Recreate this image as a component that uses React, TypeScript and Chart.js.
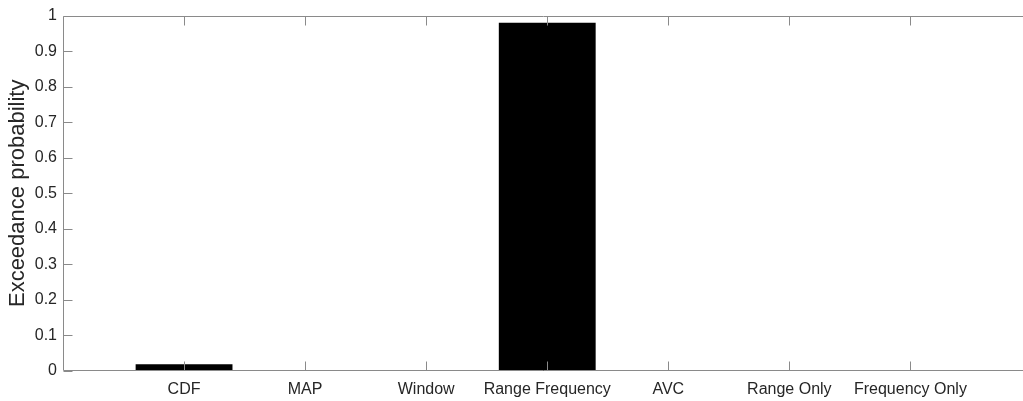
import { useEffect, useRef } from 'react';
import { Chart, registerables } from 'chart.js';

Chart.register(...registerables);

const categories = ['CDF', 'MAP', 'Window', 'Range Frequency', 'AVC', 'Range Only', 'Frequency Only'];
const exceedance = [0.019, 0.002, 0.002, 0.98, 0.002, 0.002, 0.002];
const yTickValues = [0, 0.1, 0.2, 0.3, 0.4, 0.5, 0.6, 0.7, 0.8, 0.9, 1];
const yTitle = 'Exceedance probability';
// the original axes run from 0 to 8 but the picture is cropped a little before the right edge
const xVisibleMax = 7.93;

const FONT = '"Liberation Sans", Arial, Helvetica, sans-serif';
const AXIS_COLOR = '#8a8a8a';
const TEXT_COLOR = '#262626';
const TICK_LEN = 9;

const boxPlugin = {
  id: 'matlabBox',
  afterDraw(chart: any) {
    const { ctx, chartArea: a, scales } = chart;
    const xs = scales.x;
    const ys = scales.y;
    ctx.save();
    ctx.strokeStyle = AXIS_COLOR;
    ctx.lineWidth = 1;
    ctx.beginPath();
    const L = Math.round(a.left) + 0.5;
    const R = Math.round(a.right) + 0.5;
    const T = Math.round(a.top) + 0.5;
    const B = Math.round(a.bottom) - 0.5;
    ctx.moveTo(R, T);
    ctx.lineTo(L, T);
    ctx.lineTo(L, B);
    ctx.lineTo(R, B);
    for (const v of yTickValues) {
      const py = Math.round(ys.getPixelForValue(v)) + 0.5;
      ctx.moveTo(L, py);
      ctx.lineTo(L + TICK_LEN, py);
    }
    categories.forEach((_, i) => {
      const px = Math.round(xs.getPixelForValue(i + 1)) + 0.5;
      ctx.moveTo(px, B);
      ctx.lineTo(px, B - TICK_LEN);
      ctx.moveTo(px, T);
      ctx.lineTo(px, T + TICK_LEN);
    });
    ctx.stroke();
    ctx.restore();
  },
};

export default function App() {
  const ref = useRef<HTMLCanvasElement | null>(null);

  useEffect(() => {
    if (!ref.current) return;
    const chart = new Chart(ref.current, {
      type: 'bar',
      data: {
        datasets: [
          {
            data: categories.map((_, i) => ({ x: i + 1, y: exceedance[i] })) as any,
            backgroundColor: '#000000',
            borderColor: '#000000',
            borderWidth: 0,
            barPercentage: 0.8,
            categoryPercentage: 1,
          },
        ],
      },
      options: {
        animation: false,
        responsive: false,
        devicePixelRatio: 1,
        layout: { padding: { top: 15, right: 0, left: 0, bottom: 0 } },
        plugins: { legend: { display: false }, tooltip: { enabled: false } },
        scales: {
          x: {
            type: 'linear',
            offset: false,
            min: 0,
            max: xVisibleMax,
            grid: { display: false, drawTicks: false, offset: false },
            border: { display: false },
            afterBuildTicks: (s: any) => {
              s.ticks = categories.map((_, i) => ({ value: i + 1 }));
            },
            ticks: {
              autoSkip: false,
              maxRotation: 0,
              minRotation: 0,
              padding: 9,
              color: TEXT_COLOR,
              font: { family: FONT, size: 16 },
              callback: (v: any) => categories[Math.round(Number(v)) - 1] ?? '',
            },
            afterFit: (s: any) => {
              s.height = 30;
              s.paddingRight = 0;
              s.paddingLeft = 0;
            },
          },
          y: {
            min: 0,
            max: 1,
            grid: { display: false, drawTicks: false },
            border: { display: false },
            ticks: {
              stepSize: 0.1,
              padding: 6,
              color: TEXT_COLOR,
              font: { family: FONT, size: 16 },
              callback: (v: any) => String(Number(Number(v).toFixed(1))),
            },
            title: {
              display: true,
              text: yTitle,
              color: TEXT_COLOR,
              font: { family: FONT, size: 22, lineHeight: 1.2 },
              padding: { top: 5, bottom: 0 },
            },
            afterFit: (s: any) => {
              s.width = 63;
            },
          },
        },
      },
      plugins: [boxPlugin],
    });
    return () => chart.destroy();
  }, []);

  return (
    <div
      style={{
        position: 'fixed',
        left: 0,
        top: 0,
        width: 1023,
        height: 401,
        overflow: 'hidden',
        background: '#ffffff',
      }}
    >
      <canvas ref={ref} width={1023} height={401} style={{ width: 1023, height: 401, display: 'block' }} />
    </div>
  );
}
